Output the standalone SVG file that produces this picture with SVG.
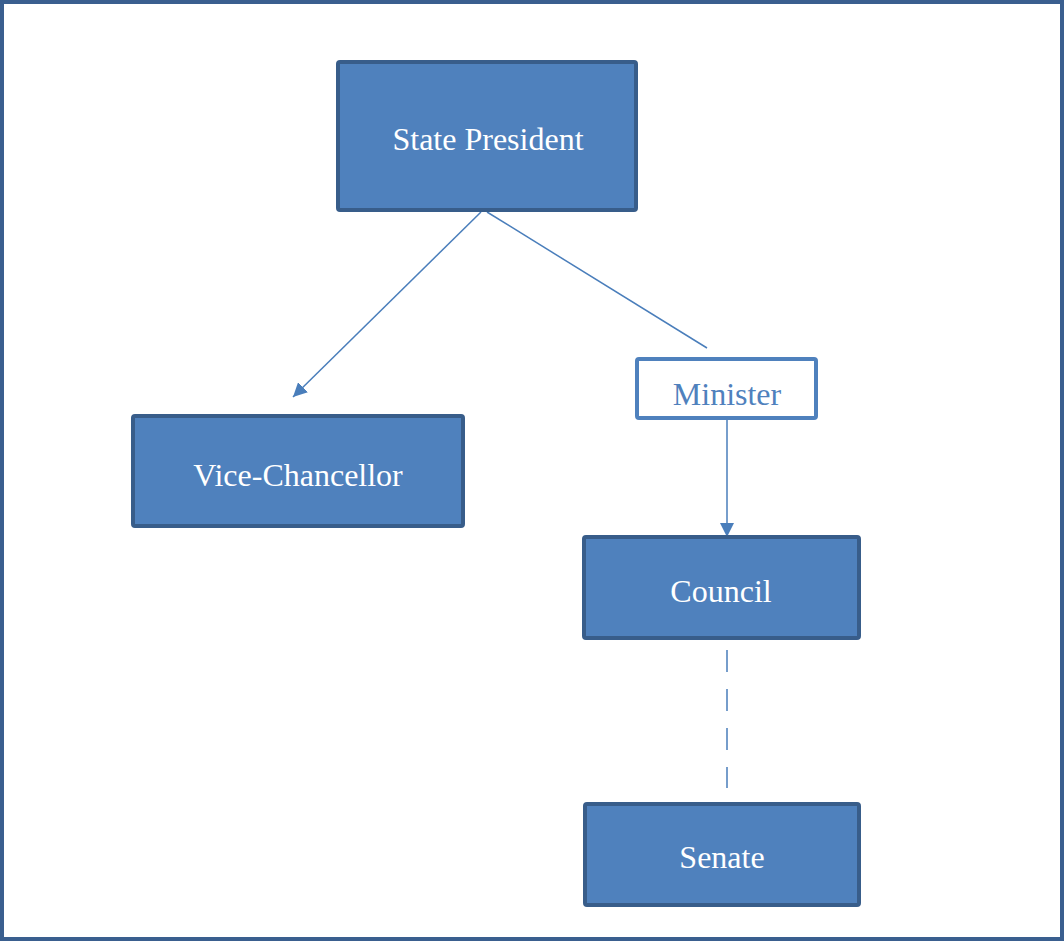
<svg xmlns="http://www.w3.org/2000/svg" width="1064" height="942" viewBox="0 0 1064 942">
<style>
.box{fill:#4f81bd;stroke:#385d8a;stroke-width:4;}
.wbox{fill:#ffffff;stroke:#4f81bd;stroke-width:4;}
.t{font-family:"Liberation Serif","Times New Roman",serif;font-size:32px;fill:#ffffff;text-anchor:middle;}
.tb{fill:#4f81bd;}
.c{stroke:#4a7ebb;stroke-width:1.5;fill:none;}
</style>
<defs>
<marker id="arr" viewBox="0 0 14 14" refX="14" refY="7" markerWidth="14" markerHeight="14" markerUnits="userSpaceOnUse" orient="auto">
<path d="M0,0 L14,7 L0,14 Z" fill="#4a7ebb"/>
</marker>
</defs>
<rect x="0" y="0" width="1064" height="942" fill="#ffffff"/>
<rect x="2" y="2" width="1060" height="937" fill="none" stroke="#3a5f8f" stroke-width="4"/>
<g id="connectors">
<line class="c" x1="481" y1="212" x2="293" y2="397" marker-end="url(#arr)"/>
<line class="c" x1="487" y1="212" x2="707" y2="348"/>
<line class="c" x1="727" y1="420" x2="727" y2="537" marker-end="url(#arr)"/>
<line class="c" x1="727" y1="650" x2="727" y2="788" stroke-dasharray="22 17"/>
</g>
<g id="state-president">
<rect class="box" x="338" y="62" width="298" height="148" rx="2"/>
<text class="t" x="488" y="150">State President</text>
</g>
<g id="vice-chancellor">
<rect class="box" x="133" y="416" width="330" height="110" rx="2"/>
<text class="t" x="298" y="486">Vice-Chancellor</text>
</g>
<g id="minister">
<rect class="wbox" x="637" y="359" width="179" height="59" rx="2"/>
<text class="t tb" x="727" y="405">Minister</text>
</g>
<g id="council">
<rect class="box" x="584" y="537" width="275" height="101" rx="2"/>
<text class="t" x="721" y="602">Council</text>
</g>
<g id="senate">
<rect class="box" x="585" y="804" width="274" height="101" rx="2"/>
<text class="t" x="722" y="868">Senate</text>
</g>
</svg>
